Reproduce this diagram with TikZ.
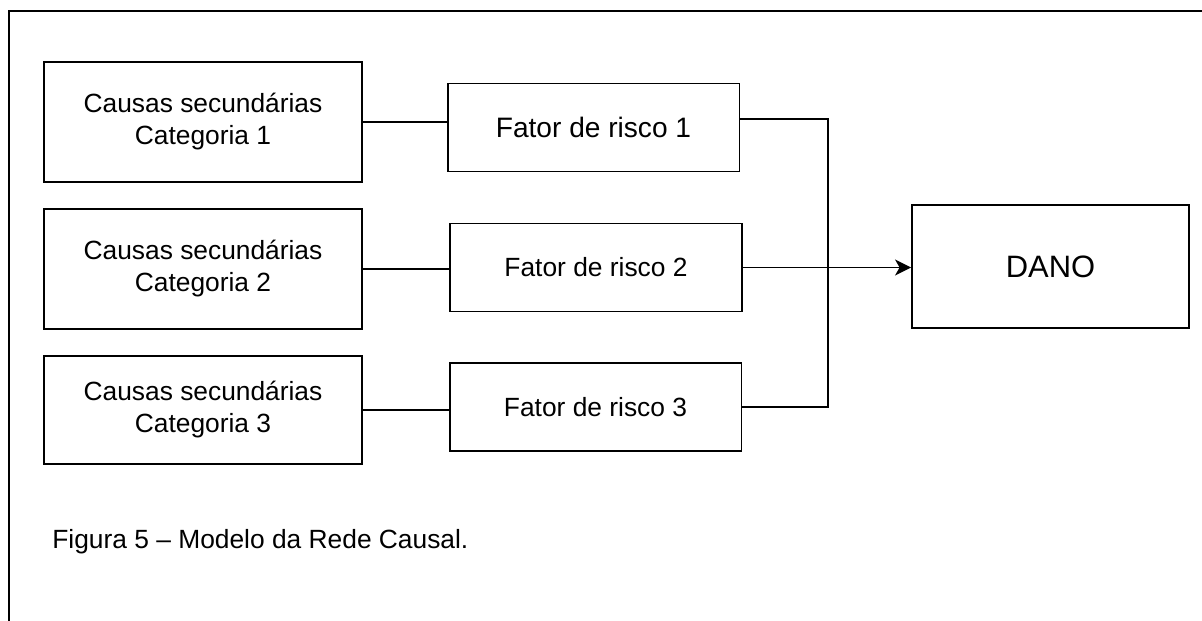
\documentclass[tikz,border=0pt]{standalone}
\usepackage{fontspec}
\setmainfont{Liberation Sans}
\usepackage{tikz}
\usetikzlibrary{arrows.meta}
\tikzset{
	causastyle/.style={rectangle,draw=black,line width=1.1pt,fill=white,inner sep=0pt,
		minimum width=6.36cm,minimum height=2.4cm,align=center,font=\fontsize{15}{18.2}\selectfont},
	fatorstyle/.style={rectangle,draw=black,line width=1.1pt,fill=white,inner sep=0pt,
		minimum width=5.84cm,minimum height=1.76cm,font=\fontsize{15}{18}\selectfont},
	danostyle/.style={rectangle,draw=black,line width=1.1pt,fill=white,inner sep=0pt,
		minimum width=5.54cm,minimum height=2.46cm,font=\fontsize{17.6}{20}\selectfont},
	linkstyle/.style={draw=black,line width=0.85pt}
}
\begin{document}
\begin{tikzpicture}[x=0.02cm,y=-0.02cm]
		\useasboundingbox (0,0) rectangle (1202,621);
		% open frame
		\draw[line width=1.1pt] (9,621)--(9,11)--(1202,11);
		\node[causastyle] (c1) at (203,122) {Causas secundárias\\Categoria 1};
		\node[causastyle] (c2) at (203,269) {Causas secundárias\\Categoria 2};
		\node[causastyle,minimum height=2.16cm] (c3) at (203,410) {Causas secundárias\\Categoria 3};
		\node[fatorstyle,font=\fontsize{16}{18}\selectfont] (f1) at (593.5,127.5) {Fator de risco 1};
		\node[fatorstyle] (f2) at (596,267.5) {Fator de risco 2};
		\node[fatorstyle] (f3) at (595.5,407) {Fator de risco 3};
		\node[danostyle] (d) at (1050.5,266.5) {DANO};
		\coordinate (j) at (828,267);
		\draw[linkstyle] (c1.east)--(c1.east -| f1.west);
		\draw[linkstyle] (c2.east)--(c2.east -| f2.west);
		\draw[linkstyle] (c3.east)--(c3.east -| f3.west);
		\draw[linkstyle] (f1.east |- 0,119) -| (j) |- (f3.east);
		\draw[linkstyle,-{Stealth[length=0.32cm,width=0.32cm,inset=0.09cm]}] (f2.east)--(f2.east -| d.west);
		\node[anchor=base west,inner sep=0pt,font=\fontsize{15}{18}\selectfont] (cap) at (52,548) {Figura 5 – Modelo da Rede Causal.};
		\end{tikzpicture}
\end{document}
